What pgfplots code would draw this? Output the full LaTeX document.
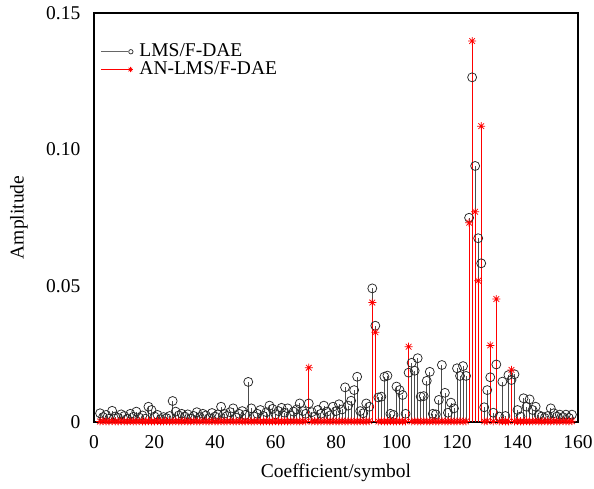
\documentclass[border=0pt]{standalone}
\usepackage{fontspec}
\setmainfont{Liberation Serif}
\usepackage{pgfplots}
\usepackage{pgfplotstable}
\pgfplotsset{compat=1.18}
\pgfdeclareplotmark{mstar}{%
 \pgfpathmoveto{\pgfqpoint{0pt}{\pgfplotmarksize}}\pgfpathlineto{\pgfqpoint{0pt}{-\pgfplotmarksize}}%
 \pgfpathmoveto{\pgfqpoint{\pgfplotmarksize}{0pt}}\pgfpathlineto{\pgfqpoint{-\pgfplotmarksize}{0pt}}%
 \pgfpathmoveto{\pgfqpoint{.7071\pgfplotmarksize}{.7071\pgfplotmarksize}}\pgfpathlineto{\pgfqpoint{-.7071\pgfplotmarksize}{-.7071\pgfplotmarksize}}%
 \pgfpathmoveto{\pgfqpoint{-.7071\pgfplotmarksize}{.7071\pgfplotmarksize}}\pgfpathlineto{\pgfqpoint{.7071\pgfplotmarksize}{-.7071\pgfplotmarksize}}%
 \pgfusepathqstroke}
\pgfplotstableread{
x y
2 0.0032
3 0.0018
4 0.0026
5 0.0012
6 0.0041
7 0.0020
8 0.0015
9 0.0028
10 0.0022
11 0.0012
12 0.0030
13 0.0019
14 0.0038
15 0.0016
16 0.0024
17 0.0012
18 0.0056
19 0.0044
20 0.0020
21 0.0026
22 0.0010
23 0.0018
24 0.0014
25 0.0022
26 0.0077
27 0.0038
28 0.0024
29 0.0030
30 0.0020
31 0.0028
32 0.0012
33 0.0022
34 0.0036
35 0.0018
36 0.0030
37 0.0024
38 0.0014
39 0.0033
40 0.0020
41 0.0028
42 0.0056
43 0.0030
44 0.0022
45 0.0036
46 0.0050
47 0.0016
48 0.0030
49 0.0040
50 0.0026
51 0.0147
52 0.0050
53 0.0020
54 0.0030
55 0.0044
56 0.0022
57 0.0036
58 0.0060
59 0.0048
60 0.0028
61 0.0040
62 0.0052
63 0.0034
64 0.0050
65 0.0024
66 0.0038
67 0.0046
68 0.0068
69 0.0040
70 0.0030
71 0.0068
72 0.0036
73 0.0020
74 0.0044
75 0.0030
76 0.0060
77 0.0038
78 0.0024
79 0.0056
80 0.0040
81 0.0065
82 0.0046
83 0.0127
84 0.0060
85 0.0078
86 0.0117
87 0.0166
88 0.0040
89 0.0032
90 0.0068
91 0.0056
92 0.0490
93 0.0353
94 0.0090
95 0.0093
96 0.0166
97 0.0170
98 0.0030
99 0.0026
100 0.0130
101 0.0117
102 0.0099
103 0.0030
104 0.0181
105 0.0217
106 0.0188
107 0.0234
108 0.0093
109 0.0095
110 0.0151
111 0.0184
112 0.0030
113 0.0028
114 0.0081
115 0.0209
116 0.0107
117 0.0034
118 0.0071
119 0.0050
120 0.0197
121 0.0169
122 0.0205
123 0.0169
124 0.0749
125 0.1264
126 0.0939
127 0.0674
128 0.0582
129 0.0054
130 0.0117
131 0.0164
132 0.0034
133 0.0211
134 0.0020
135 0.0148
136 0.0022
137 0.0172
138 0.0154
139 0.0175
140 0.0044
141 0.0020
142 0.0087
143 0.0056
144 0.0083
145 0.0044
146 0.0056
147 0.0025
148 0.0020
149 0.0015
150 0.0022
151 0.0050
152 0.0032
153 0.0020
154 0.0027
155 0.0018
156 0.0027
157 0.0015
158 0.0027
}\lmsdata
\pgfplotstableread{
x y
2 0.0002
3 0.0003
4 0.0002
5 0.0002
6 0.0003
7 0.0002
8 0.0002
9 0.0003
10 0.0002
11 0.0002
12 0.0003
13 0.0002
14 0.0002
15 0.0003
16 0.0002
17 0.0002
18 0.0003
19 0.0002
20 0.0002
21 0.0003
22 0.0002
23 0.0002
24 0.0003
25 0.0002
26 0.0002
27 0.0003
28 0.0002
29 0.0002
30 0.0003
31 0.0002
32 0.0002
33 0.0003
34 0.0002
35 0.0002
36 0.0003
37 0.0002
38 0.0002
39 0.0003
40 0.0002
41 0.0002
42 0.0003
43 0.0002
44 0.0002
45 0.0003
46 0.0002
47 0.0002
48 0.0003
49 0.0002
50 0.0002
51 0.0003
52 0.0002
53 0.0002
54 0.0003
55 0.0002
56 0.0002
57 0.0003
58 0.0002
59 0.0002
60 0.0003
61 0.0002
62 0.0002
63 0.0003
64 0.0002
65 0.0002
66 0.0003
67 0.0002
68 0.0002
69 0.0003
70 0.0002
71 0.0199
72 0.0002
73 0.0003
74 0.0002
75 0.0002
76 0.0003
77 0.0002
78 0.0002
79 0.0003
80 0.0002
81 0.0002
82 0.0003
83 0.0002
84 0.0002
85 0.0003
86 0.0002
87 0.0002
88 0.0003
89 0.0002
90 0.0002
91 0.0003
92 0.0438
93 0.0329
94 0.0002
95 0.0003
96 0.0002
97 0.0002
98 0.0003
99 0.0002
100 0.0002
101 0.0003
102 0.0002
103 0.0002
104 0.0276
105 0.0002
106 0.0003
107 0.0002
108 0.0002
109 0.0003
110 0.0002
111 0.0002
112 0.0003
113 0.0002
114 0.0002
115 0.0003
116 0.0002
117 0.0002
118 0.0003
119 0.0002
120 0.0002
121 0.0003
122 0.0002
123 0.0002
124 0.0731
125 0.1397
126 0.0771
127 0.0518
128 0.1085
129 0.0002
130 0.0003
131 0.0281
132 0.0002
133 0.0451
134 0.0002
135 0.0003
136 0.0002
137 0.0002
138 0.0191
139 0.0002
140 0.0003
141 0.0002
142 0.0002
143 0.0003
144 0.0002
145 0.0002
146 0.0003
147 0.0002
148 0.0002
149 0.0003
150 0.0002
151 0.0002
152 0.0003
153 0.0002
154 0.0002
155 0.0003
156 0.0002
157 0.0002
158 0.0003
}\andata
\begin{document}
\fontsize{19.5bp}{23bp}\selectfont
\begin{tikzpicture}
\useasboundingbox (-94bp,-67bp) rectangle (500bp,422bp);
\begin{axis}[
  at={(0,0)}, anchor=south west,
  scale only axis, width=484bp, height=409bp,
  xmin=0, xmax=160, ymin=0, ymax=0.15,
  xtick={0,20,...,160}, xticklabels={0,20,40,60,80,100,120,140,160},
  ytick={0,0.05,0.1,0.15}, yticklabels={0,0.05,0.10,0.15},
  major tick length=0pt,
  axis line style={line width=1.2bp},
  tick label style={font=\fontsize{19.5bp}{23bp}\selectfont},
  xticklabel style={yshift=-7bp},
  yticklabel style={xshift=-7bp},
  label style={font=\fontsize{19.5bp}{23bp}\selectfont},
  xlabel={Coefficient/symbol}, ylabel={Amplitude},
  xlabel style={at={(axis description cs:0.5,-0.124)}, anchor=center},
  ylabel style={at={(axis description cs:-0.155,0.5)}, anchor=center},
  legend style={at={(axis description cs:0.014,0.93)}, anchor=north west, draw=none, fill=none,
    font=\fontsize{19.5bp}{23bp}\selectfont, row sep=-2bp, inner sep=0pt},
  legend cell align=left,
]
\addplot[ycomb, draw=black!70, line width=0.8bp, mark=o, mark size=4.5bp,
  mark options={draw=black!85, line width=0.75bp},
  legend image code/.code={\draw[black!60, line width=0.8bp] (0bp,0bp) -- (27bp,0bp);
    \draw[black!85, line width=0.7bp] (29.5bp,0bp) circle (2.2bp);}]
  table[x=x,y=y] {\lmsdata};
\addlegendentry{\hspace*{4bp}LMS/F-DAE}
\addplot[ycomb, draw=red, line width=0.8bp, mark=mstar, mark size=4bp,
  mark options={draw=red, line width=0.75bp},
  legend image code/.code={\draw[red, line width=0.8bp] (0bp,0bp) -- (27bp,0bp);
    \draw[red, line width=0.7bp] plot[mark=mstar, mark size=2.6bp, only marks] coordinates {(29bp,0bp)};}]
  table[x=x,y=y] {\andata};
\addlegendentry{\hspace*{4bp}AN-LMS/F-DAE}
\end{axis}
\end{tikzpicture}
\end{document}
